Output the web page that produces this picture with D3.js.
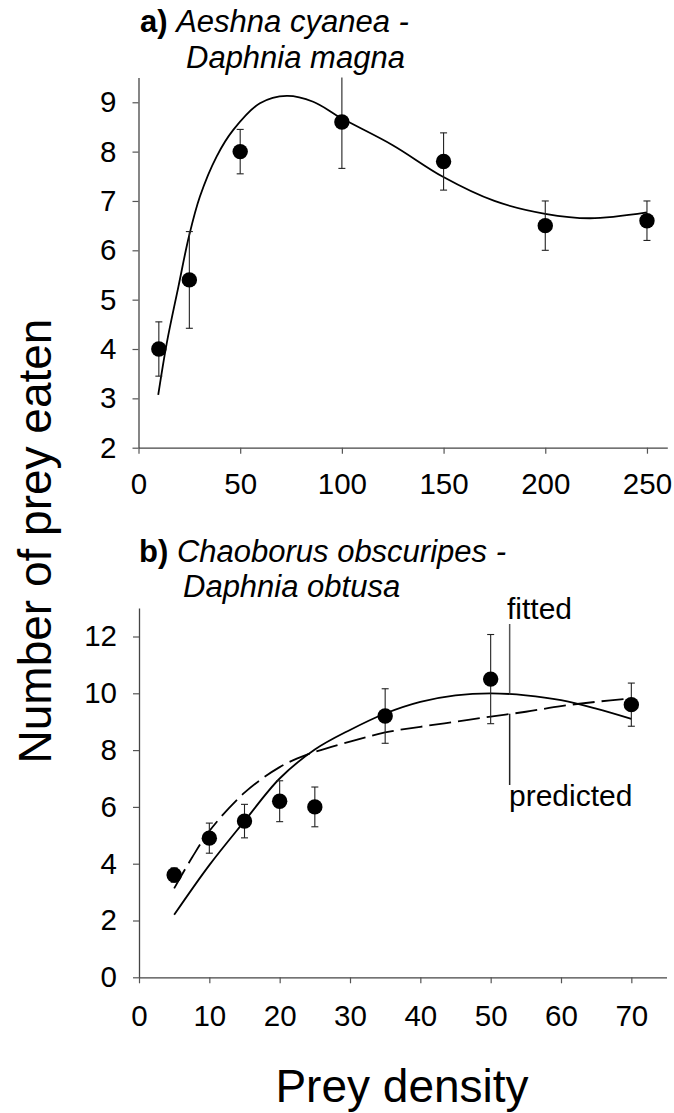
<!DOCTYPE html>
<html>
<head>
<meta charset="utf-8">
<script src="https://cdn.jsdelivr.net/npm/d3@7/dist/d3.min.js"></script>
<style>
  html, body { margin: 0; padding: 0; background: #fff; }
  svg { display: block; }
  text { font-family: "Liberation Sans", Arial, sans-serif; fill: #000; }
</style>
</head>
<body>
<svg id="chart" width="674" height="1113"></svg>
<script>
// ---------- Panel a data ----------
const aDensity = [10, 25, 50, 100, 150, 200, 250];
const aEaten   = [4.0, 5.4, 8.0, 8.6, 7.8, 6.5, 6.6];
const aError   = [0.55, 0.98, 0.45, 0.94, 0.58, 0.5, 0.4];
const aFitX = [9.7, 13.9, 19.6, 24.8, 30.2, 38.4, 46.6, 59.7, 72.9, 85.9, 99.7, 125, 149.7, 175, 200, 222, 250];
const aFitY = [3.07, 4.12, 5.26, 6.28, 7.09, 7.90, 8.44, 8.98, 9.13, 9.01, 8.68, 8.13, 7.49, 7.0, 6.74, 6.65, 6.77];
const aXTicks = [0, 50, 100, 150, 200, 250];
const aYTicks = [2, 3, 4, 5, 6, 7, 8, 9];

// ---------- Panel b data ----------
const bDensity = [5, 10, 15, 20, 25, 35, 50, 70];
const bEaten   = [3.6, 4.9, 5.5, 6.2, 6.0, 9.2, 10.5, 9.6];
const bError   = [0.25, 0.53, 0.59, 0.72, 0.7, 0.96, 1.57, 0.76];
const bFitX  = [5, 10, 15, 20, 25, 30, 35, 40, 45, 50, 55, 60, 65, 70];
const bFitY  = [2.2, 3.95, 5.5, 7.0, 8.02, 8.71, 9.29, 9.7, 9.93, 10.0, 9.93, 9.76, 9.46, 9.1];
const bPredX = [5, 7.5, 10, 15, 20, 23.8, 30, 35, 40, 45, 50, 55, 60, 65, 70];
const bPredY = [3.13, 4.2, 5.15, 6.5, 7.4, 7.83, 8.3, 8.62, 8.82, 9.0, 9.18, 9.35, 9.55, 9.7, 9.82];
const bXTicks = [0, 10, 20, 30, 40, 50, 60, 70];
const bYTicks = [0, 2, 4, 6, 8, 10, 12];

const svg = d3.select("#chart");
const tickFont = 29.5;

function panel(opts) {
  const g = svg.append("g");
  const x = d3.scaleLinear().domain(opts.xDomain).range(opts.xRange);
  const y = d3.scaleLinear().domain(opts.yDomain).range(opts.yRange);

  const xAxis = d3.axisBottom(x).tickValues(opts.xTicks).tickSize(6).tickSizeOuter(0).tickPadding(opts.xPad).tickFormat(d3.format("d"));
  const yAxis = d3.axisLeft(y).tickValues(opts.yTicks).tickSize(6).tickSizeOuter(0).tickPadding(16).tickFormat(d3.format("d"));

  const gx = g.append("g").attr("transform", `translate(0,${opts.yRange[0]})`).call(xAxis);
  const gy = g.append("g").attr("transform", `translate(${opts.xRange[0]},0)`).call(yAxis);
  [gx, gy].forEach(a => {
    a.select(".domain").attr("stroke", "#444").attr("stroke-width", 1.3);
    a.selectAll(".tick line").attr("stroke", "#555").attr("stroke-width", 1.2);
    a.selectAll(".tick text").attr("font-size", tickFont).attr("fill", "#000")
      .style("font-family", '"Liberation Sans", Arial, sans-serif');
  });

  return { g, x, y };
}

function drawPoints(p, xs, ys, es) {
  const [ymin, ymax] = p.y.domain();
  const cap = 3.5;
  xs.forEach((d, i) => {
    const lo = Math.max(ymin, ys[i] - es[i]);
    const hiRaw = ys[i] + es[i];
    const hi = Math.min(ymax, hiRaw);
    const cx = p.x(d);
    p.g.append("line").attr("x1", cx).attr("x2", cx).attr("y1", p.y(lo)).attr("y2", p.y(hi))
      .attr("stroke", "#222").attr("stroke-width", 1.1);
    p.g.append("line").attr("x1", cx - cap).attr("x2", cx + cap).attr("y1", p.y(lo)).attr("y2", p.y(lo))
      .attr("stroke", "#222").attr("stroke-width", 1.1);
    if (hiRaw <= ymax) {
      p.g.append("line").attr("x1", cx - cap).attr("x2", cx + cap).attr("y1", p.y(hi)).attr("y2", p.y(hi))
        .attr("stroke", "#222").attr("stroke-width", 1.1);
    }
  });
  p.g.selectAll("circle.pt").data(xs).enter().append("circle")
    .attr("class", "pt")
    .attr("cx", d => p.x(d)).attr("cy", (d, i) => p.y(ys[i])).attr("r", 7.7).attr("fill", "#000");
}

function drawCurve(p, xs, ys, dash) {
  const line = d3.line().x(d => p.x(d[0])).y(d => p.y(d[1])).curve(d3.curveCatmullRom.alpha(0.5));
  const path = p.g.append("path").datum(xs.map((d, i) => [d, ys[i]]))
    .attr("d", line).attr("fill", "none").attr("stroke", "#000").attr("stroke-width", 1.8);
  if (dash) path.attr("stroke-dasharray", dash);
}

function title(lines) {
  const t1 = svg.append("text").attr("x", lines.x1).attr("y", lines.y1).attr("font-size", 31);
  t1.append("tspan").attr("font-weight", "bold").text(lines.label + " ");
  t1.append("tspan").attr("font-style", "italic").text(lines.line1);
  svg.append("text").attr("x", lines.x2).attr("y", lines.y2).attr("font-size", 31)
    .attr("font-style", "italic").text(lines.line2);
}

// ---------- Panel a ----------
const pa = panel({
  xDomain: [0, 260], xRange: [138.5, 667.3],
  yDomain: [2, 9.5], yRange: [447.7, 77.6],
  xTicks: aXTicks, yTicks: aYTicks, xPad: 19
});
drawCurve(pa, aFitX, aFitY, null);
drawPoints(pa, aDensity, aEaten, aError);
title({ label: "a)", line1: "Aeshna cyanea -", line2: "Daphnia magna", x1: 140, y1: 32, x2: 186, y2: 68 });

// ---------- Panel b ----------
const pb = panel({
  xDomain: [0, 75], xRange: [139, 666.5],
  yDomain: [0, 13], yRange: [977.3, 608.1],
  xTicks: bXTicks, yTicks: bYTicks, xPad: 22
});
drawCurve(pb, bPredX, bPredY, "22,7");
drawCurve(pb, bFitX, bFitY, null);
drawPoints(pb, bDensity, bEaten, bError);
title({ label: "b)", line1: "Chaoborus obscuripes -", line2: "Daphnia obtusa", x1: 139, y1: 562, x2: 183, y2: 597 });

// annotations
const annX = 52.7;
pb.g.append("line").attr("x1", pb.x(annX)).attr("x2", pb.x(annX)).attr("y1", pb.y(10.0)).attr("y2", 624)
  .attr("stroke", "#555").attr("stroke-width", 1.5);
pb.g.append("line").attr("x1", pb.x(annX)).attr("x2", pb.x(annX)).attr("y1", pb.y(9.28)).attr("y2", 785)
  .attr("stroke", "#222").attr("stroke-width", 1.5);
svg.append("text").attr("x", 507).attr("y", 619).attr("font-size", 30).text("fitted");
svg.append("text").attr("x", 509).attr("y", 806).attr("font-size", 30).text("predicted");

// axis titles
svg.append("text").attr("x", 402).attr("y", 1102).attr("text-anchor", "middle").attr("font-size", 46).text("Prey density");
svg.append("text").attr("transform", "translate(51,541) rotate(-90)").attr("text-anchor", "middle")
  .attr("font-size", 46).text("Number of prey eaten");
</script>
</body>
</html>
